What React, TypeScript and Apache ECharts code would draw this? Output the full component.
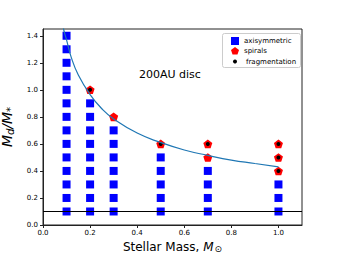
import React, { useEffect, useRef } from "react";
import * as echarts from "echarts";

// axisymmetric discs (blue squares)
const axiX = [0.1, 0.2, 0.3, 0.5, 0.7, 1.0];
const axiMaxRatio = [1.4, 0.9, 0.7, 0.5, 0.4, 0.3];
const ratioSteps = [0.1, 0.2, 0.3, 0.4, 0.5, 0.6, 0.7, 0.8, 0.9, 1.0, 1.1, 1.2, 1.3, 1.4];
// spirals (red pentagons)
const spiralX = [0.2, 0.3, 0.5, 0.7, 0.7, 1.0, 1.0, 1.0];
const spiralY = [1.0, 0.8, 0.6, 0.5, 0.6, 0.4, 0.5, 0.6];
// fragmentation (black dots)
const fragX = [0.2, 0.5, 0.7, 1.0, 1.0, 1.0];
const fragY = [1.0, 0.6, 0.6, 0.4, 0.5, 0.6];
// boundary curve
const curveX = [0.085, 0.09, 0.1, 0.12, 0.15, 0.2, 0.25, 0.3, 0.4, 0.5, 0.6, 0.7, 0.8, 0.9, 1.0];
const curveY = [1.475, 1.43, 1.37, 1.24, 1.11, 0.965, 0.86, 0.785, 0.68, 0.61, 0.555, 0.515, 0.48, 0.455, 0.43];
// threshold line
const thresholdY = 0.1;
const xTicks = [0, 0.2, 0.4, 0.6, 0.8, 1.0];
const yTicks = [0, 0.2, 0.4, 0.6, 0.8, 1.0, 1.2, 1.4];

const PENTAGON = "path://M50,0 L97.6,34.5 L79.4,90.5 L20.6,90.5 L2.4,34.5 Z";
const FONT = "DejaVu Sans";

export default function App() {
  const ref = useRef<HTMLDivElement>(null);
  useEffect(() => {
    if (!ref.current) return;
    const chart = echarts.init(ref.current, undefined, { renderer: "svg" });
    const axiData: number[][] = [];
    axiX.forEach((x, i) => {
      ratioSteps.forEach((r) => {
        if (r <= axiMaxRatio[i] + 1e-9) axiData.push([x, r]);
      });
    });
    const spiralData = spiralX.map((x, i) => [x, spiralY[i]]);
    const fragData = fragX.map((x, i) => [x, fragY[i]]);
    const curveData = curveX.map((x, i) => [x, curveY[i]]);

    const legendCommon = {
      orient: "vertical",
      padding: 0,
      selectedMode: false,
      textStyle: { fontSize: 7, color: "#000", fontFamily: FONT },
    };

    chart.setOption({
      animation: false,
      backgroundColor: "#fff",
      grid: {
        left: 43,
        right: 36,
        top: 29,
        bottom: 28,
        containLabel: false,
        outerBoundsMode: "none",
        show: true,
        borderColor: "#222",
        borderWidth: 1,
      },
      graphic: [
        {
          type: "rect",
          left: 222,
          top: 33,
          shape: { width: 78, height: 34, r: 2 },
          style: { fill: "#fff", stroke: "#ccc", lineWidth: 1 },
          z: 10,
        },
        {
          type: "text",
          left: 139,
          top: 69,
          style: { text: "200AU disc", fontSize: 11, fontFamily: FONT, fill: "#000" },
          z: 10,
        },
      ],
      legend: [
        {
          ...legendCommon,
          left: 231,
          top: 37,
          itemWidth: 8,
          itemHeight: 8,
          data: [{ name: "axisymmetric", icon: "rect" }],
          z: 20,
        },
        {
          ...legendCommon,
          left: 231,
          top: 47,
          itemWidth: 8,
          itemHeight: 8,
          data: [{ name: "spirals", icon: PENTAGON }],
          z: 20,
        },
        {
          ...legendCommon,
          left: 233,
          top: 58,
          itemWidth: 4,
          itemHeight: 4,
          textStyle: { ...legendCommon.textStyle, padding: [0, 0, 0, 4] },
          data: [{ name: "fragmentation", icon: "circle" }],
          z: 20,
        },
      ],
      xAxis: {
        type: "value",
        min: 0,
        max: 1.1,
        interval: 0.2,
        splitLine: { show: false },
        axisLine: { show: true, onZero: false, lineStyle: { color: "#222", width: 1 } },
        axisTick: { show: true, length: 3, customValues: xTicks, lineStyle: { color: "#222" } },
        axisLabel: {
          customValues: xTicks,
          fontSize: 7,
          color: "#000",
          fontFamily: FONT,
          margin: 4,
          formatter: (v: number) => v.toFixed(1),
        },
        name: "{r|Stellar Mass, }{i|M}{s|⊙}",
        nameLocation: "middle",
        nameGap: 10,
        nameTextStyle: {
          rich: {
            r: { fontSize: 12, fontFamily: FONT, color: "#000" },
            i: { fontSize: 12, fontFamily: FONT, fontStyle: "italic", color: "#000" },
            s: { fontSize: 9, fontFamily: FONT, color: "#000", padding: [4, 0, 0, 1] },
          },
        },
      },
      yAxis: {
        type: "value",
        min: 0,
        max: 1.45,
        interval: 0.2,
        splitLine: { show: false },
        axisLine: { show: true, onZero: false, lineStyle: { color: "#222", width: 1 } },
        axisTick: { show: true, length: 3, customValues: yTicks, lineStyle: { color: "#222" } },
        axisLabel: {
          customValues: yTicks,
          fontSize: 7,
          color: "#000",
          fontFamily: FONT,
          margin: 5,
          formatter: (v: number) => v.toFixed(1),
        },
        name: "{i|M}{s|d}{i|/M}{s|*}",
        nameLocation: "middle",
        nameRotate: 90,
        nameGap: 17,
        nameTextStyle: {
          rich: {
            i: { fontSize: 14, fontFamily: FONT, fontStyle: "italic", color: "#000" },
            s: { fontSize: 10, fontFamily: FONT, fontStyle: "italic", color: "#000", padding: [7, 0, 0, 0] },
          },
        },
      },
      series: [
        {
          name: "axisymmetric",
          type: "scatter",
          symbol: "rect",
          symbolSize: 8,
          itemStyle: { color: "#0000ff", opacity: 1 },
          data: axiData,
          z: 2,
        },
        {
          name: "spirals",
          type: "scatter",
          symbol: PENTAGON,
          symbolKeepAspect: true,
          symbolSize: 9,
          itemStyle: { color: "#ff0000", opacity: 1 },
          data: spiralData,
          z: 3,
        },
        {
          name: "fragmentation",
          type: "scatter",
          symbol: "circle",
          symbolSize: 4,
          itemStyle: { color: "#000", opacity: 1 },
          data: fragData,
          z: 4,
        },
        {
          name: "curve",
          type: "line",
          smooth: true,
          showSymbol: false,
          symbol: "none",
          clip: true,
          lineStyle: { color: "#1f77b4", width: 1.2 },
          data: curveData,
          z: 5,
        },
        {
          name: "threshold",
          type: "line",
          showSymbol: false,
          symbol: "none",
          lineStyle: { color: "#000", width: 1.2 },
          data: [
            [0, thresholdY],
            [1.1, thresholdY],
          ],
          z: 5,
        },
      ],
    });
    return () => chart.dispose();
  }, []);
  return <div ref={ref} style={{ width: 338, height: 253, position: "absolute", left: 0, top: 0 }} />;
}
